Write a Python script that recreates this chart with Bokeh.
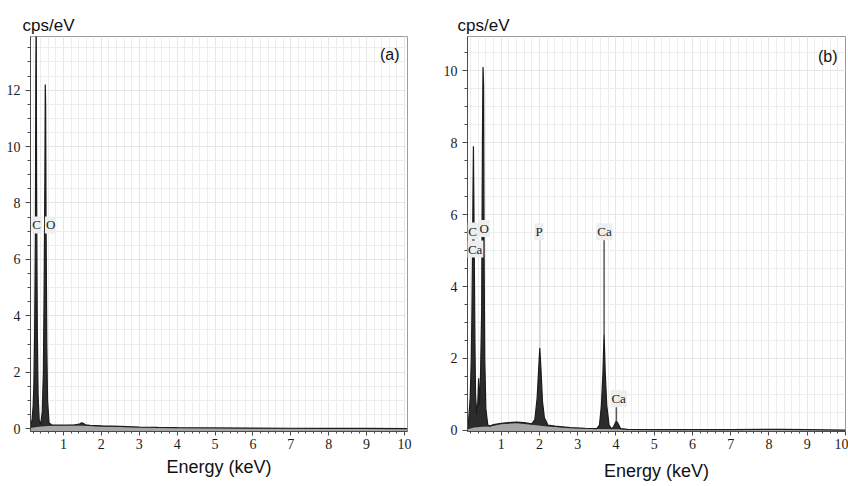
from bokeh.plotting import figure
from bokeh.models import Range1d, FixedTicker, Label
from bokeh.layouts import row
from bokeh.embed import file_html
from bokeh.resources import INLINE

# ---------------- Panel (a) data ----------------
energy_a = [0.13, 0.17, 0.20, 0.22, 0.24, 0.26, 0.27, 0.28, 0.29, 0.30, 0.31,
            0.33, 0.36, 0.40, 0.44, 0.47, 0.49, 0.51, 0.52, 0.53, 0.54, 0.56,
            0.58, 0.62, 0.70, 0.90, 1.10, 1.30, 1.42, 1.48, 1.52, 1.58, 1.70,
            2.00, 2.50, 3.00, 3.50, 4.00, 5.00, 6.00, 7.00, 8.00, 9.00, 10.08]
counts_a = [0.05, 0.3, 0.8, 1.6, 3.5, 7.0, 12.3, 15.0, 9.0, 6.0, 3.5,
            1.2, 0.3, 0.15, 0.6, 2.0, 5.0, 9.0, 12.2, 11.5, 7.5, 3.0,
            1.0, 0.2, 0.13, 0.13, 0.13, 0.14, 0.16, 0.21, 0.19, 0.14, 0.12,
            0.10, 0.08, 0.06, 0.045, 0.035, 0.025, 0.02, 0.015, 0.012, 0.01, 0.0]
bg_energy_a = [0.13, 0.25, 0.35, 0.50, 0.70, 1.00, 1.50, 2.00, 2.50, 3.00,
               4.00, 5.00, 7.00, 10.08]
bg_counts_a = [0.02, 0.05, 0.07, 0.09, 0.10, 0.11, 0.10, 0.08, 0.06, 0.045,
               0.03, 0.02, 0.01, 0.0]
label_text_a = ["C", "O"]
label_x_a = [0.29, 0.66]
label_y_a = [7.22, 7.22]

# ---------------- Panel (b) data ----------------
energy_b = [0.12, 0.15, 0.19, 0.22, 0.235, 0.25, 0.265, 0.275, 0.285, 0.30,
            0.315, 0.33, 0.36, 0.39, 0.41, 0.43, 0.46, 0.49, 0.51, 0.525,
            0.54, 0.555, 0.57, 0.60, 0.65, 0.70, 0.80, 1.00, 1.20, 1.40,
            1.60, 1.80, 1.88, 1.94, 1.98, 2.01, 2.04, 2.08, 2.13, 2.22,
            2.40, 2.80, 3.20, 3.50, 3.57, 3.62, 3.66, 3.69, 3.72, 3.76,
            3.82, 3.88, 3.93, 3.98, 4.01, 4.05, 4.12, 4.30, 5.00, 6.00,
            7.00, 8.00, 8.30, 9.00, 10.0]
counts_b = [0.05, 0.3, 0.9, 2.0, 3.2, 4.8, 6.8, 7.9, 6.5, 4.5,
            2.4, 1.0, 0.45, 0.8, 1.45, 0.7, 1.5, 3.3, 8.0, 10.1,
            9.6, 4.7, 2.0, 0.6, 0.15, 0.12, 0.16, 0.2, 0.22, 0.23,
            0.22, 0.18, 0.3, 0.9, 1.7, 2.3, 1.7, 0.8, 0.35, 0.15,
            0.12, 0.08, 0.06, 0.05, 0.15, 0.7, 1.6, 2.7, 1.6, 0.7,
            0.15, 0.05, 0.08, 0.2, 0.27, 0.2, 0.05, 0.03, 0.02, 0.02,
            0.02, 0.03, 0.03, 0.02, 0.01]
bg_energy_b = [0.12, 0.30, 0.50, 0.70, 1.00, 1.40, 1.80, 2.20, 2.60, 3.00,
               3.50, 4.00, 5.00, 7.00, 10.0]
bg_counts_b = [0.03, 0.08, 0.10, 0.11, 0.17, 0.20, 0.16, 0.11, 0.08, 0.06,
               0.04, 0.03, 0.02, 0.02, 0.01]
label_text_b = ["C", "Ca", "O", "P", "Ca", "Ca"]
label_x_b = [0.256, 0.32, 0.556, 1.99, 3.70, 4.07]
label_y_b = [5.54, 5.04, 5.61, 5.52, 5.52, 0.88]
marker_x_b = [2.013, 3.690, 4.012]
marker_top_b = [5.30, 5.30, 0.72]
marker_peak_b = [2.30, 2.70, 0.27]
marker_color_b = ["#d2d2d2", "#5a5a5a", "#5a5a5a"]

# ---------------- ticks ----------------
x_ticks = [1, 2, 3, 4, 5, 6, 7, 8, 9, 10]
x_minor = [round(0.2 * i, 1) for i in range(0, 52)]
y_ticks_a = [0, 2, 4, 6, 8, 10, 12]
y_ticks_b = [0, 2, 4, 6, 8, 10]
y_minor = [round(0.5 * i, 1) for i in range(0, 30)]

XR_A = (0.13, 10.08)
YR_A = (-0.1, 13.9)
XR_B = (0.12, 10.0)
YR_B = (-0.03, 10.95)

DARK = "#2c2c2c"
GRAY = "#a6a6a6"


def panel(width, height, xr, yr, borders, yticks, label_standoff,
          title_offset, title_standoff):
    p = figure(width=width, height=height,
               x_range=Range1d(*xr), y_range=Range1d(*yr),
               output_backend="svg", toolbar_location=None,
               min_border_left=borders[0], min_border_right=borders[1],
               min_border_top=borders[2], min_border_bottom=borders[3])
    p.background_fill_color = "white"
    p.border_fill_color = "white"
    p.outline_line_color = "#9a9a9a"
    p.outline_line_width = 1

    p.title.text = "cps/eV"
    p.title.align = "left"
    p.title.offset = title_offset
    p.title.standoff = title_standoff
    p.title.text_font = "Liberation Sans"
    p.title.text_font_size = "17px"
    p.title.text_font_style = "normal"
    p.title.text_color = "#111111"

    p.xaxis.ticker = FixedTicker(ticks=x_ticks, minor_ticks=x_minor)
    p.yaxis.ticker = FixedTicker(ticks=yticks, minor_ticks=y_minor)
    for ax in (p.xaxis, p.yaxis):
        ax.axis_line_color = "#4a4a4a"
        ax.major_tick_line_color = "#4a4a4a"
        ax.minor_tick_line_color = "#4a4a4a"
        ax.major_tick_in = 0
        ax.minor_tick_in = 0
        ax.major_label_text_font = "Liberation Serif"
        ax.major_label_text_font_size = "14px"
        ax.major_label_text_color = "#1a1a1a"
    p.xaxis.major_tick_out = 4
    p.xaxis.minor_tick_out = 2
    p.xaxis.major_label_standoff = 3
    p.yaxis.major_tick_out = 5
    p.yaxis.minor_tick_out = 3
    p.yaxis.major_label_standoff = 5
    p.xaxis.axis_label = "Energy (keV)"
    p.xaxis.axis_label_text_font = "Liberation Sans"
    p.xaxis.axis_label_text_font_size = "18px"
    p.xaxis.axis_label_text_font_style = "normal"
    p.xaxis.axis_label_text_color = "#111111"
    p.xaxis.axis_label_standoff = label_standoff

    for g in (p.xgrid, p.ygrid):
        g.grid_line_color = "#e6e6e6"
        g.minor_grid_line_color = "#ededed"
    return p


def draw_spectrum(p, yr, energy, counts, bg_energy, bg_counts):
    base = yr[0]
    p.varea(x=energy, y1=[base] * len(energy), y2=counts, fill_color=DARK)
    p.varea(x=bg_energy, y1=[base] * len(bg_energy), y2=bg_counts,
            fill_color=GRAY)
    p.line(energy, counts, line_color="#1c1c1c", line_width=1.2)


def add_texts(p, names, xs, ys):
    for t, x, y in zip(names, xs, ys):
        p.add_layout(Label(x=x, y=y, text=t, text_font="Liberation Serif",
                           text_font_size="13px", text_color="#222222",
                           text_align="center", text_baseline="middle",
                           background_fill_color="#eeeeee",
                           background_fill_alpha=1.0, padding=1))


# ---------------- panel (a) ----------------
pa = panel(440, 486, XR_A, YR_A, (30, 33, 32, 55), y_ticks_a, 5, -8, 3)
draw_spectrum(pa, YR_A, energy_a, counts_a, bg_energy_a, bg_counts_a)
add_texts(pa, label_text_a, label_x_a, label_y_a)
pa.add_layout(Label(x=9.87, y=13.27, text="(a)", text_font="Liberation Sans",
                    text_font_size="16px", text_color="#111111",
                    text_align="right", text_baseline="middle"))

# ---------------- panel (b) ----------------
pb = panel(408, 486, XR_B, YR_B, (27, 3, 36, 52), y_ticks_b, 9, -10, 4)
draw_spectrum(pb, YR_B, energy_b, counts_b, bg_energy_b, bg_counts_b)
pb.segment(x0=marker_x_b, y0=marker_peak_b, x1=marker_x_b, y1=marker_top_b,
           line_color=marker_color_b, line_width=1.5)
add_texts(pb, label_text_b, label_x_b, label_y_b)
pb.add_layout(Label(x=9.79, y=10.4, text="(b)", text_font="Liberation Sans",
                    text_font_size="16px", text_color="#111111",
                    text_align="right", text_baseline="middle"))

layout = row(pa, pb)
open("out.html", "w").write(file_html(layout, INLINE))
